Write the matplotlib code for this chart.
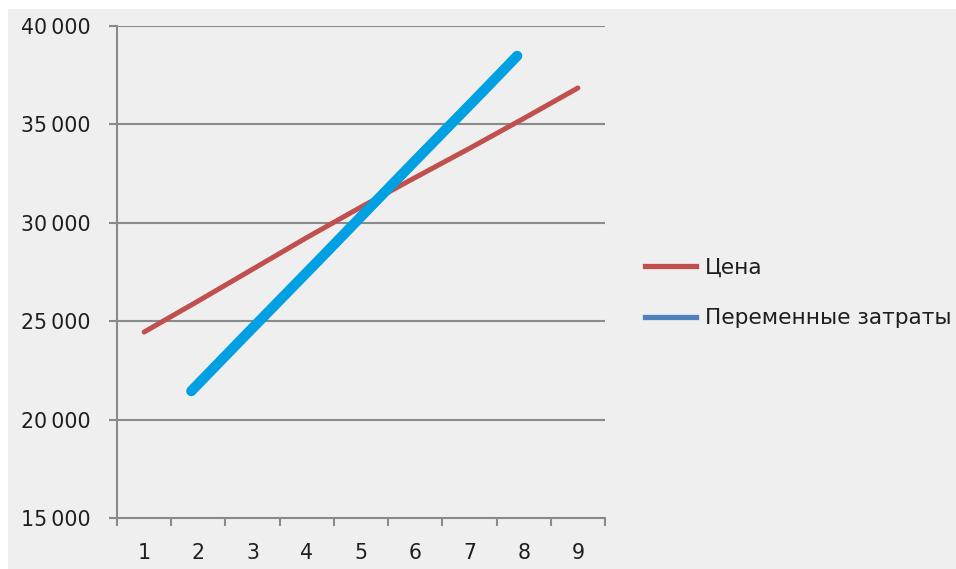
import matplotlib
matplotlib.use("Agg")
import matplotlib.pyplot as plt
from matplotlib.lines import Line2D
from matplotlib.patches import Rectangle

plt.rcParams['font.family'] = ['DejaVu Sans']

# Цена по годам (категории 1..9)
categories = [1, 2, 3, 4, 5, 6, 7, 8, 9]
price = [24450, 26030, 27640, 29250, 30800, 32300, 33780, 35300, 36850]

# Переменные затраты: точки ряда лежат между категориями
cost_x = [1.87, 2.75, 4.25, 5.75, 7.25, 7.88]
cost = [21450, 23950, 28180, 32450, 36680, 38480]

y_ticks = [15000, 20000, 25000, 30000, 35000, 40000]
labels = ["Цена", "Переменные затраты"]

W, H = 956, 569
BG = "#efefef"
GRID = "#8a8a8a"
TXT = "#1e1e1e"

fig = plt.figure(figsize=(W / 100, H / 100), dpi=100, facecolor=BG)
# белая рамка сверху и слева
fig.patches.append(Rectangle((0, 0), 8 / W, 1, transform=fig.transFigure,
                             facecolor="white", edgecolor="none", zorder=-10))
fig.patches.append(Rectangle((0, 1 - 9 / H), 1, 9 / H, transform=fig.transFigure,
                             facecolor="white", edgecolor="none", zorder=-10))

ax = fig.add_axes([117 / W, (H - 518) / H, (605 - 117) / W, (518 - 26) / H])
ax.set_facecolor(BG)

ax.set_xlim(0.5, 9.5)
ax.set_ylim(15000, 40000)

for v in y_ticks[1:]:
    ax.axhline(v, color=GRID, lw=1.5, zorder=1)

ax.plot(categories, price, color="#c0504d", lw=3.6, solid_capstyle="round", zorder=3)
ax.plot(cost_x, cost, color="#00a0e3", lw=7.4, solid_capstyle="round", zorder=4)

for side in ["top", "right"]:
    ax.spines[side].set_visible(False)
for side in ["left", "bottom"]:
    ax.spines[side].set_color(GRID)
    ax.spines[side].set_linewidth(1.5)

# пробел-разделитель тысяч узкий, как в Excel
ax.set_yticks(y_ticks)
ax.set_yticklabels([f"{v:,}".replace(",", "\u2009") for v in y_ticks])
ax.tick_params(axis="y", length=6, width=1.5, color=GRID, pad=13, labelsize=14.8, labelcolor=TXT)

# штрихи на границах категорий, подписи по центрам
ax.set_xticks([c - 0.5 for c in categories] + [categories[-1] + 0.5])
ax.set_xticklabels([])
ax.set_xticks(categories, minor=True)
ax.set_xticklabels([str(c) for c in categories], minor=True)
ax.tick_params(axis="x", which="major", length=6, width=1.5, color=GRID)
ax.tick_params(axis="x", which="minor", length=0, pad=18, labelsize=14.8, labelcolor=TXT)

handles = [Line2D([], [], color="#c0504d", lw=3.8),
           Line2D([], [], color="#4f81bd", lw=3.8)]
fig.legend(handles, labels, loc="upper left", bbox_to_anchor=(645 / W, 1 - 258 / H),
           frameon=False, fontsize=15.6, labelcolor=TXT, handlelength=2.35,
           handletextpad=0.4, labelspacing=1.4, borderpad=0, borderaxespad=0)

fig.savefig("out.png", dpi=100, facecolor=BG)
